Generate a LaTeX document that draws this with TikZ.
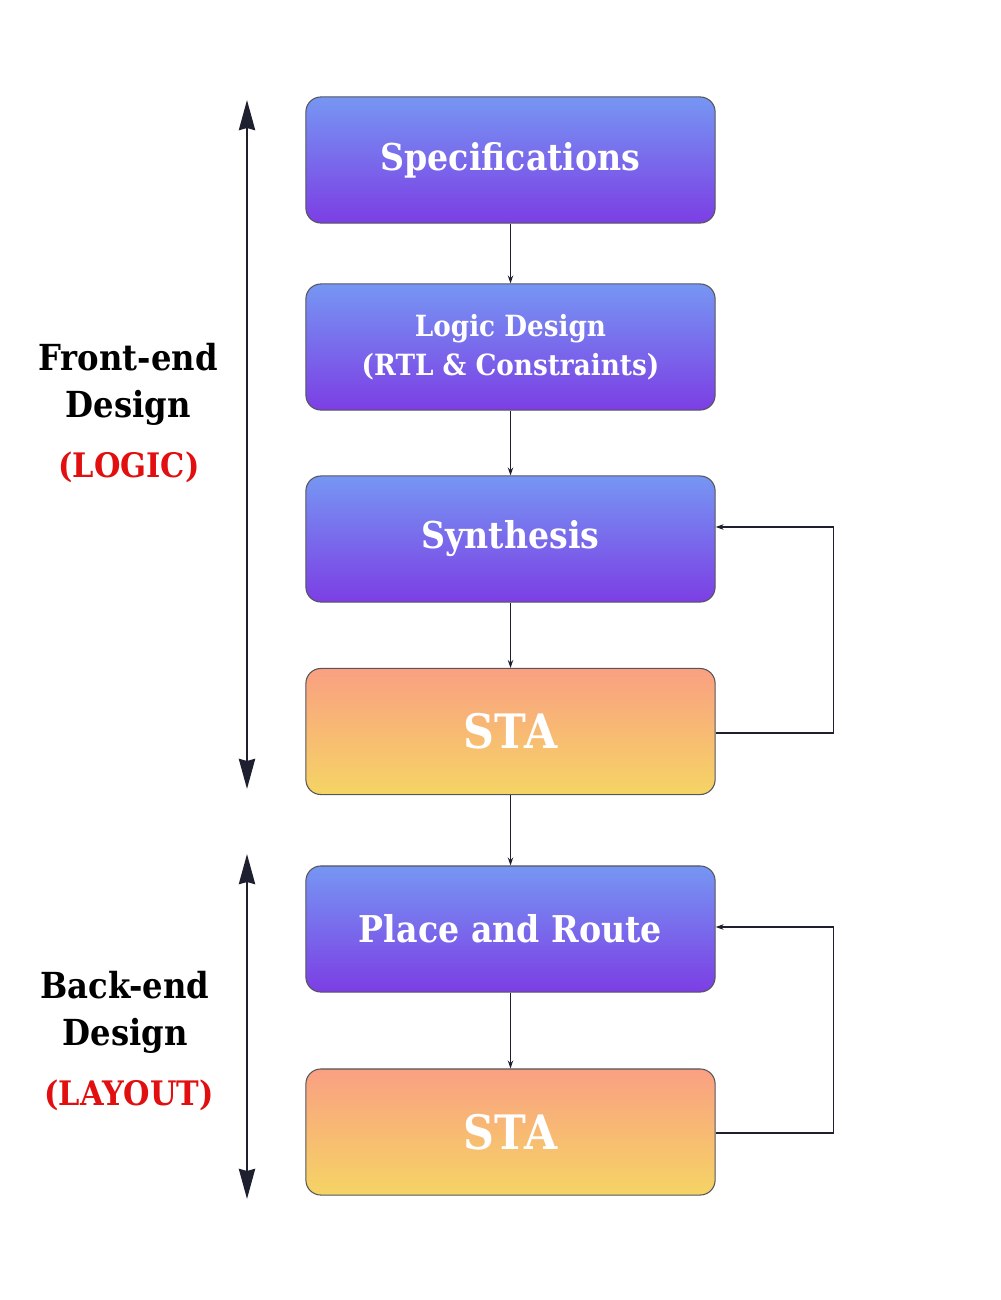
\documentclass[tikz,border=0pt]{standalone}
\usepackage{fontspec}
\setmainfont{DejaVu Serif}[FakeStretch=0.9]
\usetikzlibrary{arrows.meta}

\definecolor{blauoben}{RGB}{118,150,243}
\definecolor{lilaunten}{RGB}{124,62,228}
\definecolor{orangeoben}{RGB}{250,160,130}
\definecolor{gelbunten}{RGB}{245,212,100}
\definecolor{rahmen}{RGB}{85,85,90}
\definecolor{pfeildunkel}{RGB}{30,32,48}
\definecolor{logikrot}{RGB}{225,15,15}

\tikzset{
    stufe/.style={draw=rahmen, line width=0.3pt, rounded corners=0.15cm,
        minimum width=4.09cm, minimum height=1.26cm, text=white,
        font=\bfseries\fontsize{10.5}{13}\selectfont, align=center},
    logikbox/.style={stufe, top color=blauoben, bottom color=lilaunten},
    stabox/.style={stufe, top color=orangeoben, bottom color=gelbunten,
        font=\bfseries\fontsize{13.5}{16}\selectfont},
    fluss/.style={draw=pfeildunkel, line width=0.35pt,
        -{Stealth[length=0.08cm, width=0.055cm]}},
    phase/.style={draw=pfeildunkel, line width=0.85pt,
        {Stealth[length=0.3cm, width=0.16cm, inset=0.02cm]}-{Stealth[length=0.3cm, width=0.16cm, inset=0.02cm]}},
    bereich/.style={font=\bfseries\fontsize{10.2}{13.3}\selectfont, align=center},
    rotlabel/.style={bereich, text=logikrot, font=\bfseries\fontsize{9.6}{12}\selectfont}
}

\begin{document}
\begin{tikzpicture}[x=0.01cm, y=-0.01cm]

    \useasboundingbox (0,0) rectangle (1000,1300);

    % Ablauf
    \node[logikbox] (spec) at (510.5,160) {Specifications};
    \node[logikbox, font=\bfseries\fontsize{8.3}{11}\selectfont] (logic) at (510.5,347)
        {Logic Design\\(RTL \& Constraints)};
    \node[logikbox] (syn) at (510.5,539) {Synthesis};
    \node[stabox] (sta) at (510.5,731.5) {STA};
    \node[logikbox] (pnr) at (510.5,929) {Place and Route};
    \node[stabox] (stb) at (510.5,1132) {STA};

    % Pfeile
    \draw[fluss] (spec) -- (logic);
    \draw[fluss] (logic) -- (syn);
    \draw[fluss] (syn) -- (sta);
    \draw[fluss] (sta) -- (pnr);
    \draw[fluss] (pnr) -- (stb);

    % Rueckkopplung
    \draw[fluss] ([yshift=-0.015cm]sta.east) -- ++(118,0) |- ([yshift=0.12cm]syn.east);
    \draw[fluss] ([yshift=-0.01cm]stb.east) -- ++(118,0) |- ([yshift=0.02cm]pnr.east);

    % Phasen links
    \coordinate (fo) at (247,100);
    \coordinate (fu) at (247,789);
    \coordinate (bo) at (247,854);
    \coordinate (bu) at (247,1199);
    \draw[phase] (fo) -- (fu);
    \draw[phase] (bo) -- (bu);

    % Labels
    \node[bereich] (front) at (128,384) {Front-end\\Design};
    \node[rotlabel] (frontlog) at (129,467) {(LOGIC)};
    \node[bereich] (back) at (125,1012) {Back-end\\Design};
    \node[rotlabel] (backlay) at (129,1095) {(LAYOUT)};

\end{tikzpicture}
\end{document}
